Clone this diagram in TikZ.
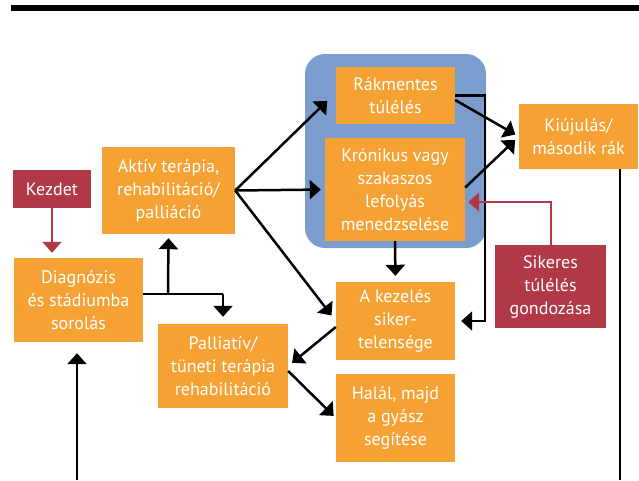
\documentclass[tikz,border=0pt]{standalone}
\usepackage{fontspec}
\setmainfont{PT Sans}
\usetikzlibrary{arrows.meta}
\definecolor{BoxOrange}{HTML}{F6A133}
\definecolor{BoxRed}{HTML}{B13947}
\definecolor{PhaseBlue}{HTML}{7B9DCD}

\begin{document}
\begin{tikzpicture}[x=1pt,y=-1pt,
  box/.style={fill=BoxOrange,text=white,inner sep=0pt,align=center,font=\fontsize{18}{23}\selectfont},
  redbox/.style={box,fill=BoxRed},
  arr/.style={line width=2.5pt,-{Triangle[length=11pt,width=19pt]}},
  redarr/.style={arr,BoxRed,line width=2pt}]
  \useasboundingbox (0,0) rectangle (639,480);
  \draw[line width=6pt] (11,8) -- (639,8);
  \fill[PhaseBlue,rounded corners=20pt] (305,54) rectangle (486,248);
  % boxes
  \node[redbox,minimum width=78pt,minimum height=38pt] (kezdet) at (52,189) {Kezdet};
  \node[box,minimum width=133pt,minimum height=87pt] (aktiv) at (168.5,190.5) {Aktív terápia,\\rehabilitáció/\\palliáció};
  \node[box,minimum width=129pt,minimum height=84pt] (diag) at (78.5,300) {Diagnózis\\és stádiumba\\sorolás};
  \node[box,minimum width=130pt,minimum height=84pt] (pall) at (223,366) {Palliatív/\\tüneti terápia\\rehabilitáció};
  \node[box,minimum width=119pt,minimum height=78pt] (kezel) at (395.5,321) {A kezelés\\siker-\\telensége};
  \node[box,minimum width=119pt,minimum height=88pt] (halal) at (395.5,418) {Halál, majd\\a gyász\\segítése};
  \node[box,minimum width=119pt,minimum height=57pt] (rakm) at (395.5,95.5) {Rákmentes\\túlélés};
  \node[box,minimum width=140pt,minimum height=103pt] (kron) at (395,189.5) {Krónikus vagy\\szakaszos\\lefolyás\\menedzselése};
  \node[box,minimum width=119pt,minimum height=65pt] (kiuj) at (578.5,136.5) {Kiújulás/\\második rák};
  \node[redbox,minimum width=111pt,minimum height=83pt] (sikeres) at (550.5,286.5) {Sikeres\\túlélés\\gondozása};
  \coordinate (fork) at (168,294);
  \coordinate (fork2) at (223,294);
  \coordinate (side) at (485,200);
  \coordinate (bottomL) at (77,480);
  \coordinate (bottomR) at (620,480);
  % connectors
  \draw[redarr,shorten >=5pt] (kezdet) -- (diag.north-|kezdet);
  \draw[line width=2.5pt] (diag.east|-fork) -- (fork2);
  \draw[arr,shorten >=4pt] (fork) -- (aktiv.south);
  \draw[arr,shorten >=7pt] (fork2) -- (pall.north-|fork2);
  \draw[arr,shorten >=12pt] (aktiv.east) -- ([yshift=3pt]rakm.west);
  \draw[arr,shorten >=4pt] (aktiv.east) -- (kron.west);
  \draw[arr,shorten >=7pt] (aktiv.east) -- (kezel.west);
  \draw[arr,shorten >=4pt] ([yshift=-4.5pt]rakm.east) -- (kiuj.west);
  \draw[arr,shorten >=5pt] ([yshift=2pt]kron.east) -- (kiuj.west);
  \draw[arr,shorten >=6pt] (rakm.east) -| (side) |- (kezel.east);
  \draw[redarr,shorten >=3pt] (sikeres.north) |- ([yshift=-12.5pt]kron.east);
  \draw[arr,shorten >=6pt] (kron.south) -- (kezel.north);
  \draw[arr,shorten >=5pt] ([yshift=-6pt]kezel.west) -- (pall.east);
  \draw[arr,shorten >=3pt] ([yshift=-5pt]pall.east) -- (halal.west);
  \draw[arr,shorten >=11pt] (bottomL) -- (diag.south-|bottomL);
  \draw[line width=2.5pt] (kiuj.south-|bottomR) -- (bottomR);
\end{tikzpicture}
\end{document}
